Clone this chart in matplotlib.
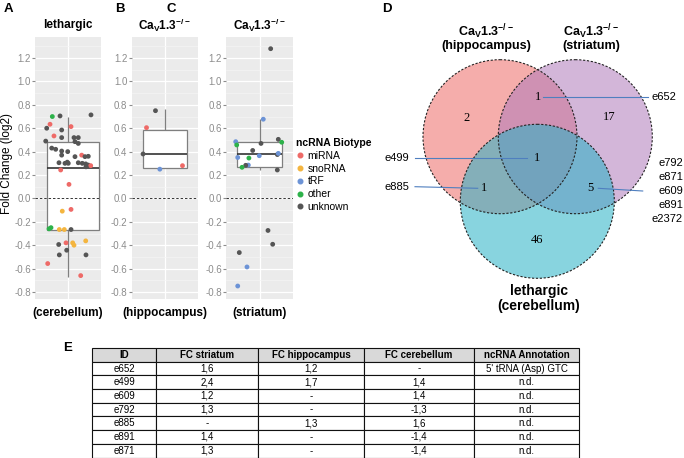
import matplotlib
matplotlib.use('Agg')
import matplotlib.pyplot as plt
from matplotlib.patches import Circle
from matplotlib.lines import Line2D

plt.rcParams['font.family'] = ['Liberation Sans', 'DejaVu Sans']
plt.rcParams['mathtext.fontset'] = 'custom'
plt.rcParams['mathtext.rm'] = 'Liberation Sans'
plt.rcParams['mathtext.bf'] = 'Liberation Sans:bold'

W, H = 684, 458

# --- data ---------------------------------------------------------------
biotypes = ['miRNA', 'snoRNA', 'tRF', 'other', 'unknown']
biotype_colors = ['#EE6A67', '#F4B53F', '#6C93D6', '#2DB24A', '#555555']

# panel A: lethargic (cerebellum), jittered x, log2 fold change, biotype index
leth_x = [0.715, 0.855, 1.418, 0.673, 0.613, 0.745, 0.885, 1.055, 0.595, 0.885,
          1.109, 1.187, 1.127, 1.187, 0.704, 0.776, 0.885, 0.995, 0.885, 0.987,
          1.127, 1.249, 1.309, 1.369, 0.836, 0.945, 1.005, 1.187, 1.260, 1.322,
          1.369, 1.413, 1.327, 0.867, 1.018, 1.055, 0.896, 0.691, 0.655, 0.842,
          0.933, 1.055, 0.964, 1.085, 1.109, 1.322, 0.831, 0.976, 0.842, 1.327,
          0.631, 1.231]
leth_y = [0.700, 0.705, 0.714, 0.634, 0.600, 0.534, 0.585, 0.614, 0.490, 0.520,
          0.520, 0.520, 0.485, 0.470, 0.430, 0.420, 0.405, 0.400, 0.370, 0.310,
          0.357, 0.370, 0.357, 0.360, 0.305, 0.300, 0.300, 0.305, 0.300, 0.295,
          0.285, 0.280, 0.270, 0.243, 0.120, -0.094, -0.109, -0.250, -0.260, -0.266,
          -0.266, -0.266, -0.380, -0.380, -0.400, -0.363, -0.394, -0.443, -0.483, -0.483,
          -0.557, -0.660]
leth_t = [3, 4, 4, 0, 4, 0, 4, 0, 4, 4,
          4, 4, 4, 4, 4, 4, 4, 4, 4, 4,
          4, 0, 4, 4, 4, 4, 4, 4, 4, 4,
          4, 0, 4, 0, 0, 0, 1, 3, 3, 1,
          1, 4, 0, 1, 1, 1, 4, 4, 4, 4,
          0, 0]

# panel B: Cav1.3-/- hippocampus
hip_x = [0.673, 0.836, 0.610, 0.915, 1.327]
hip_y = [0.605, 0.750, 0.380, 0.250, 0.280]
hip_t = [0, 4, 4, 2, 0]

# panel C: Cav1.3-/- striatum
str_x = [1.200, 1.068, 0.574, 0.592, 1.027, 0.878, 1.337, 1.398, 0.610, 0.996,
         0.810, 1.320, 1.337, 0.800, 0.753, 0.687, 1.319, 1.152, 1.236, 0.638,
         0.776, 0.610]
str_y = [1.280, 0.677, 0.485, 0.457, 0.470, 0.410, 0.505, 0.480, 0.350, 0.365,
         0.345, 0.375, 0.385, 0.285, 0.283, 0.266, 0.243, -0.274, -0.392, -0.463,
         -0.586, -0.749]
str_t = [4, 2, 2, 3, 4, 4, 4, 3, 2, 2,
         3, 4, 2, 2, 4, 3, 4, 4, 4, 4,
         2, 2]

# boxplot summaries (q1, median, q3, lower whisker, upper whisker)
leth_box = dict(q1=-0.27, med=0.26, q3=0.48, whislo=-0.67, whishi=0.70)
hip_box = dict(q1=0.262, med=0.377, q3=0.585, whislo=0.262, whishi=0.765)
str_box = dict(q1=0.266, med=0.38, q3=0.482, whislo=0.243, whishi=0.677)

# Venn counts
venn_counts = {'H': 2, 'S': 17, 'HS': 1, 'HSL': 1, 'HL': 1, 'SL': 5, 'L': 46}

# table
tab_cols = ['ID', 'FC striatum', 'FC hippocampus', 'FC cerebellum', 'ncRNA Annotation']
tab_ids = ['e652', 'e499', 'e609', 'e792', 'e885', 'e891', 'e871']
tab_fc_str = ['1,6', '2,4', '1,2', '1,3', '-', '1,4', '1,3']
tab_fc_hip = ['1,2', '1,7', '-', '-', '1,3', '-', '-']
tab_fc_cer = ['-', '1,4', '1,4', '-1,3', '1,6', '-1,4', '-1,4']
tab_annot = ['5\' tRNA (Asp) GTC', 'n.d.', 'n.d.', 'n.d.', 'n.d.', 'n.d.', 'n.d.']


def fx(p):
    return p / W


def fy(p):
    return 1 - p / H


fig = plt.figure(figsize=(W / 100, H / 100), dpi=100)
fig.patch.set_facecolor('white')

YTICKS = [-0.8, -0.6, -0.4, -0.2, 0.0, 0.2, 0.4, 0.6, 0.8, 1.0, 1.2]


def strip_panel(left, width, xs, ys, ts, box, box_pos, box_w, title, xlabel):
    ax = fig.add_axes([fx(left), fy(299), width / W, 262 / H])
    ax.set_facecolor('#EBEBEB')
    for s in ax.spines.values():
        s.set_visible(False)

    stats = dict(box, fliers=[])
    ax.bxp([stats], positions=[box_pos], widths=[box_w], showcaps=False,
           showfliers=False, patch_artist=True, manage_ticks=False,
           boxprops=dict(facecolor='white', edgecolor='#7F7F7F', lw=0.9),
           medianprops=dict(color='#333333', lw=1.2),
           whiskerprops=dict(lw=0))
    ax.vlines(1.0, box['q3'], box['whishi'], color='#7F7F7F', lw=0.9, zorder=1.5)
    ax.vlines(1.0, box['whislo'], box['q1'], color='#7F7F7F', lw=0.9, zorder=1.5)
    ax.axhline(0, color='#333333', lw=0.7, ls=(0, (2.5, 2)), zorder=2.5)
    ax.scatter(xs, ys, c=[biotype_colors[t] for t in ts], s=12, lw=0, zorder=3)

    ax.set_xlim(0.4, 1.6)
    ax.set_ylim(-0.86, 1.38)
    ax.set_yticks(YTICKS)
    ax.set_yticklabels(['%.1f' % v for v in YTICKS])
    ax.set_yticks([v + 0.1 for v in YTICKS], minor=True)
    ax.set_xticks([1.0])
    ax.set_xticklabels([])
    ax.tick_params(axis='y', which='major', labelsize=7, colors='#8C8C8C', length=2, pad=1)
    ax.tick_params(axis='y', which='minor', length=0)
    ax.tick_params(axis='x', length=0)
    ax.grid(True, which='major', color='white', lw=0.9)
    ax.grid(True, which='minor', axis='y', color='#F5F5F5', lw=0.5)
    ax.set_axisbelow(True)

    cx = left + width / 2
    fig.text(fx(cx), fy(25), title, ha='center', va='center', fontsize=8.5, fontweight='bold')
    fig.text(fx(cx), fy(313), xlabel, ha='center', va='center', fontsize=8.5, fontweight='bold')
    return ax


cav = r'$\mathbf{Ca_{V}1.3^{-/-}}$'
strip_panel(35, 66, leth_x, leth_y, leth_t, leth_box, 1.09, 0.96, 'lethargic', '(cerebellum)')
strip_panel(131.5, 66, hip_x, hip_y, hip_t, hip_box, 1.0, 0.8, cav, '(hippocampus)')
strip_panel(226, 67, str_x, str_y, str_t, str_box, 1.0, 0.8, cav, '(striatum)')

fig.text(fx(7), fy(163), 'Fold Change (log2)', rotation=90, ha='center', va='center', fontsize=8.5)

handles = [Line2D([], [], marker='o', ls='', color=c, markersize=3.3) for c in biotype_colors]
leg = fig.legend(handles, biotypes, title='ncRNA Biotype', loc='upper left',
                 bbox_to_anchor=(fx(296), fy(138)), frameon=False, fontsize=7.5,
                 title_fontsize=7.5, handlelength=0.8, handletextpad=0.3,
                 labelspacing=0.27, borderpad=0, borderaxespad=0, alignment='left')
leg.get_title().set_fontweight('bold')

for lab, (x, y) in zip('ABCDE', [(8.5, 8.5), (120, 8.5), (171, 8.5), (387, 8.5), (68, 348)]):
    fig.text(fx(x), fy(y), lab, ha='center', va='center', fontsize=9.5, fontweight='bold')

# --- Venn diagram (axes in pixel units) ---------------------------------
vx0, vy0, vx1, vy1 = 370, 0, 684, 335
av = fig.add_axes([fx(vx0), fy(vy1), (vx1 - vx0) / W, (vy1 - vy0) / H])
av.set_xlim(vx0, vx1)
av.set_ylim(vy1, vy0)
av.axis('off')

R = 77
circles = [((500, 136.7), '#EE6B66'), ((575.3, 136.7), '#B07ABB'), ((537.3, 201.3), '#27B2C6')]
for (c, col) in circles:
    av.add_patch(Circle(c, R, facecolor=col, alpha=0.55, lw=0))
for (c, col) in circles:
    av.add_patch(Circle(c, R, facecolor='none', edgecolor='#222222', lw=0.8, ls=(0, (2, 1.5))))

num_pos = {'H': (466.7, 118.3), 'S': (609, 116.7), 'HS': (537.7, 96.7), 'HSL': (536.7, 158.3),
           'HL': (484.3, 188.3), 'SL': (590, 188.3), 'L': (537.3, 240)}
for k, n in venn_counts.items():
    av.text(*num_pos[k], str(n), ha='center', va='center', fontsize=9,
            family='Liberation Serif')

av.text(486, 31.7, cav, ha='center', va='center', fontsize=9)
av.text(486, 46, '(hippocampus)', ha='center', va='center', fontsize=9, fontweight='bold')
av.text(591, 31.7, cav, ha='center', va='center', fontsize=9)
av.text(591, 45.5, '(striatum)', ha='center', va='center', fontsize=9, fontweight='bold')
av.text(539, 290.7, 'lethargic', ha='center', va='center', fontsize=10, fontweight='bold')
av.text(539, 306, '(cerebellum)', ha='center', va='center', fontsize=10, fontweight='bold')

lc = '#4F7FBF'
av.plot([543.3, 648.3], [96.7, 96.7], color=lc, lw=0.8)
av.text(652, 96.7, 'e652', ha='left', va='center', fontsize=8)
av.plot([415, 526.7], [158.3, 158.3], color=lc, lw=0.8)
av.text(409, 158.3, 'e499', ha='right', va='center', fontsize=8)
av.plot([415, 477.7], [186.7, 188.3], color=lc, lw=0.8)
av.text(409, 186.7, 'e885', ha='right', va='center', fontsize=8)
av.plot([598.3, 642.7], [188.3, 191], color=lc, lw=0.8)
for lab, y in zip(['e792', 'e871', 'e609', 'e891', 'e2372'], [163.3, 177, 191, 205, 219]):
    av.text(683, y, lab, ha='right', va='center', fontsize=8)

# --- table ----------------------------------------------------------------
at = fig.add_axes([fx(92), fy(457.5), 487 / W, 109.5 / H])
at.axis('off')
rows = [list(r) for r in zip(tab_ids, tab_fc_str, tab_fc_hip, tab_fc_cer, tab_annot)]
col_w = [64, 102, 106, 110, 105]
tbl = at.table(cellText=rows, colLabels=tab_cols, colWidths=[w / sum(col_w) for w in col_w],
               cellLoc='center', bbox=[0, 0, 1, 1])
tbl.auto_set_font_size(False)
tbl.set_fontsize(7)
for (r, c), cell in tbl.get_celld().items():
    cell.set_linewidth(0.8)
    cell.set_edgecolor('#111111')
    if r == 0:
        cell.set_facecolor('#D9D9D9')
        cell.set_text_props(fontweight='bold')

fig.savefig('out.png', dpi=100)
